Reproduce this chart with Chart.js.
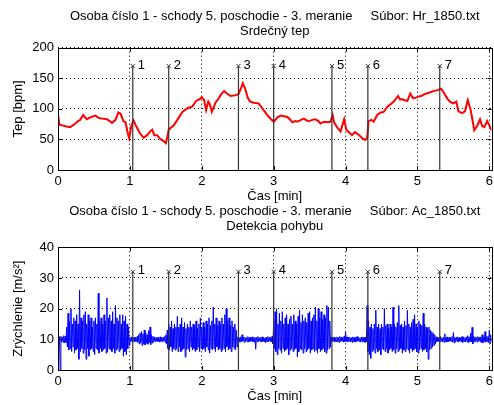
<!DOCTYPE html>
<html>
<head>
<meta charset="utf-8">
<script src="https://cdn.jsdelivr.net/npm/chart.js@4"></script>
<style>
html, body { margin: 0; padding: 0; background: #fff; }
#wrap { position: relative; width: 494px; height: 405px; overflow: hidden; }
canvas { position: absolute; left: 0; }
#hrCanvas { top: 0; }
#accCanvas { top: 200px; }
</style>
</head>
<body>
<div id="wrap">
  <canvas id="hrCanvas" width="497" height="205"></canvas>
  <canvas id="accCanvas" width="497" height="205"></canvas>
</div>
<script>
// --- data ---
var hrTitle = ['Osoba číslo 1 - schody 5. poschodie - 3. meranie     Súbor: Hr_1850.txt', 'Srdečný tep'];
var accTitle = ['Osoba číslo 1 - schody 5. poschodie - 3. meranie     Súbor: Ac_1850.txt', 'Detekcia pohybu'];
var xLabel = 'Čas [min]';
var hrLabel = 'Tep [bpm]';
var accLabel = 'Zrýchlenie [m/s²]';

var xMax = 6.03;
var markerTimes = [1.04, 1.54, 2.51, 3.0, 3.81, 4.31, 5.31];
var markerLabels = ['1', '2', '3', '4', '5', '6', '7'];
var hrMarkerTop = 170;
var accMarkerTop = 32;

var hrTime = [0.00, 0.02, 0.06, 0.12, 0.17, 0.22, 0.28, 0.31, 0.35, 0.40, 0.45, 0.52, 0.57, 0.62, 0.68, 0.72, 0.75, 0.80, 0.84, 0.87,
  0.89, 0.91, 0.94, 0.97, 0.99, 1.02, 1.05, 1.09, 1.14, 1.19, 1.24, 1.29, 1.31, 1.34, 1.38, 1.42, 1.47, 1.50, 1.52, 1.54,
  1.61, 1.66, 1.73, 1.80, 1.87, 1.92, 1.97, 2.00, 2.03, 2.06, 2.09, 2.11, 2.14, 2.19, 2.23, 2.27, 2.31, 2.35, 2.40, 2.46,
  2.51, 2.55, 2.57, 2.60, 2.64, 2.67, 2.72, 2.79, 2.86, 2.93, 3.00, 3.06, 3.10, 3.14, 3.18, 3.21, 3.26, 3.30, 3.33, 3.38,
  3.42, 3.46, 3.49, 3.54, 3.58, 3.62, 3.65, 3.70, 3.75, 3.79, 3.82, 3.84, 3.88, 3.93, 3.96, 3.98, 4.01, 4.06, 4.09, 4.13,
  4.19, 4.23, 4.27, 4.30, 4.32, 4.36, 4.39, 4.44, 4.49, 4.53, 4.58, 4.63, 4.67, 4.73, 4.76, 4.79, 4.82, 4.86, 4.90, 4.94,
  4.97, 5.01, 5.05, 5.10, 5.15, 5.22, 5.29, 5.33, 5.37, 5.42, 5.46, 5.50, 5.54, 5.57, 5.62, 5.66, 5.70, 5.74, 5.76, 5.79,
  5.83, 5.87, 5.90, 5.93, 5.97, 6.01, 6.03];
var hrValue = [90, 74, 73, 71, 70, 74, 80, 82, 90, 83, 86, 89, 85, 84, 83, 80, 77, 82, 94, 92,
  86, 80, 78, 60, 52, 72, 81, 71, 60, 53, 57, 64, 66, 57, 57, 51, 47, 44, 54, 66,
  73, 82, 95, 101, 104, 113, 116, 119, 115, 98, 112, 108, 95, 110, 116, 124, 129, 125, 121, 122,
  124, 135, 142, 134, 118, 112, 110, 109, 98, 87, 79, 87, 89, 88, 87, 85, 78, 80, 79, 82,
  84, 81, 80, 82, 83, 80, 76, 79, 78, 79, 90, 78, 70, 63, 75, 83, 66, 60, 57, 62,
  57, 52, 49, 52, 80, 82, 79, 90, 94, 95, 103, 108, 112, 121, 115, 116, 114, 113, 125, 117,
  118, 120, 121, 124, 126, 129, 131, 133, 126, 116, 111, 109, 112, 96, 93, 96, 114, 98, 85, 65,
  72, 83, 72, 70, 80, 70, 65];

// acceleration: upper and lower swing of the signal every 0.02 min
var accStep = 0.02;
var accHigh = [11, 10.8, 11, 10.7, 11.2, 11,
  14, 18.5, 16, 20, 15, 17, 16, 18, 15, 26, 17, 16, 18, 19, 15, 18, 16, 17, 14, 16, 17, 15, 25, 16, 17, 15, 18, 16, 23.5, 17,
  18, 16, 19, 15, 21, 17, 16, 18, 15, 18, 16, 17.5, 15, 14,
  10.6, 10.8, 10.5, 10.7, 10.6, 10.9, 11.5, 12, 12.5, 11.8, 13, 12.2, 11.5, 12.8, 14, 11.5, 11, 10.8, 10.6, 10.7, 10.5, 10.8, 10.6, 10.7, 10.9, 11.5,
  13, 15, 14, 16, 13.5, 15, 14, 17.5, 14, 15, 17, 14, 15.5, 13.5, 15, 14, 16, 14, 15, 14.5, 16, 13.5, 15, 17, 14, 15.5, 14, 16, 15, 17,
  14.5, 16, 20.5, 15, 17, 14.5, 16, 15, 17, 15, 18, 20, 16, 17, 14.5, 16, 14, 15, 13,
  10.7, 10.5, 10.8, 11.5, 10.6, 10.7, 10.5, 10.9, 10.6, 10.7, 10.8, 10.5, 10.7, 10.6, 10.9, 10.5, 10.7, 10.8, 10.6, 10.5, 10.7, 10.9, 10.6, 10.8, 11,
  16, 19, 20, 15, 18.5, 16, 19, 15, 17, 18, 15, 16.5, 17.5, 15, 18, 16, 15, 17.5, 19.5, 15.5, 18, 16, 17, 15.5, 18.5, 19, 16, 17, 18, 20.5,
  16, 20, 17, 19, 16.5, 18, 17, 21, 20.5, 16,
  10.8, 10.6, 10.7, 10.5, 10.8, 10.6, 10.9, 10.7, 10.6, 11, 12.5, 10.8, 10.6, 10.7, 10.5, 10.8, 10.6, 10.7, 10.9, 10.6, 10.5, 10.7, 10.8, 10.6, 10.7,
  21, 16, 14, 15, 13.5, 15, 19.5, 14, 15, 13.5, 15, 14, 20, 14.5, 15, 13.5, 15, 14, 20.5, 15, 14, 15.5, 21, 14.5, 15, 14, 16, 14.5, 19.5, 15,
  14, 15.5, 16.5, 18, 15, 14, 16, 15, 14.5, 18.5, 15, 14, 13.5, 14, 13, 12.5, 12, 11.5,
  10.8, 10.6, 10.7, 10.9, 10.5, 10.7, 11.8, 10.6, 10.8, 10.7, 10.5, 10.9, 12.2, 10.6, 10.7, 10.8, 10.6, 10.5, 10.9, 10.7,
  10.6, 10.8, 11.2, 10.7, 12, 13.9, 11, 10.8, 10.6, 10.9, 10.7, 10.8, 11.5, 10.6, 12.5, 10.8, 11, 13, 11.5, 10.8];
var accLow = [9, 0, 9.2, 9, 8.8, 9,
  7.5, 6.5, 7, 6, 7.5, 5.5, 6.5, 7, 3.5, 6, 7, 5.5, 6.5, 3.5, 7, 4.5, 6.5, 7, 6, 5, 7, 6.5, 5.5, 7, 6, 6.5, 7, 5.5, 6, 7,
  6.5, 6, 7, 5.5, 6.5, 7, 6, 6.5, 7, 4.5, 6, 5, 7, 8,
  9.3, 9.1, 9.4, 9.2, 9.3, 9, 8.5, 8.8, 8, 8.6, 8.2, 8.7, 8.4, 8.9, 8.3, 8.8, 9.1, 9.2, 9.4, 9.3, 9.1, 9.3, 9.2, 9.4, 9, 8.5,
  7, 6.5, 7.5, 6, 7, 6.5, 7, 6, 7.5, 6, 6.5, 7, 4.2, 6.5, 7, 6, 7.5, 6.5, 7, 6, 6.5, 7.5, 6, 7, 6.5, 7, 6, 7.5, 6.5, 5.5,
  7, 6.5, 7, 6, 7.5, 6.5, 7, 6, 6.5, 7, 6, 7.5, 6.5, 7, 6, 7.5, 7, 6.5, 7.5,
  9.3, 9.1, 9.2, 9.4, 9, 9.3, 9.2, 9.1, 9.3, 9.4, 9.2, 9.1, 6.8, 9.3, 9.2, 9.4, 9.1, 9.3, 9.2, 9, 9.3, 9.1, 9.4, 9.2, 8.5,
  7, 6, 5, 7, 6.5, 5.5, 7, 6, 6.5, 7, 5, 6.5, 7, 6, 6.5, 7, 4.3, 6, 7, 6.5, 5.5, 7, 6, 6.5, 7, 5.5, 6.5, 7, 6, 6.5,
  5.5, 7, 6, 6.5, 7, 6, 5.5, 6.5, 7, 7.5,
  9.2, 9.4, 9.1, 9.3, 9.2, 9, 9.3, 9.4, 9.1, 9.2, 9.3, 9.1, 9.4, 9.2, 9, 9.3, 9.1, 9.2, 9.4, 9.3, 9.1, 9.2, 9.3, 9, 9.2,
  6, 5, 3.8, 6, 6.5, 5.5, 7, 6, 6.5, 5, 7, 6.5, 6, 7, 5.5, 6.5, 7, 6, 6.5, 5.5, 7, 6, 6.5, 7, 5.5, 6.5, 6, 7, 6.5, 5.5,
  7, 6, 6.5, 7, 6, 5.5, 6.5, 7, 6, 6.5, 7, 6, 3.5, 6.5, 7, 7.5, 8, 8.5,
  9.2, 9.3, 9.1, 9.4, 9.2, 9, 9.3, 9.1, 9.2, 9.4, 9.3, 9.1, 8.8, 9.2, 9.3, 9.1, 9.4, 9.2, 9, 9.3,
  9.1, 9.2, 8.9, 9.3, 9.1, 8.5, 9.2, 9.3, 9.1, 9.4, 9.2, 9, 8.8, 9.3, 9.1, 9.2, 8.9, 8.7, 9.2, 9.1];

// --- chart setup ---
Chart.defaults.font.family = "'Liberation Sans', Arial, Helvetica, sans-serif";
Chart.defaults.font.size = 13;
Chart.defaults.color = '#000';

function markerLines(top) {
  var pts = [];
  markerTimes.forEach(function (t) {
    pts.push({ x: t, y: 0 }, { x: t, y: top }, { x: t, y: null });
  });
  return pts;
}

function markerTops(top) {
  return markerTimes.map(function (t) { return { x: t, y: top }; });
}

// matlab style box with inward ticks + marker numbers
var matlabAxes = {
  id: 'matlabAxes',
  afterDatasetsDraw: function (chart, args, opts) {
    var ctx = chart.ctx, a = chart.chartArea, xs = chart.scales.x, ys = chart.scales.y;
    ctx.save();
    ctx.strokeStyle = '#000';
    ctx.lineWidth = 1;
    ctx.beginPath();
    xs.ticks.forEach(function (tk) {
      var px = Math.round(xs.getPixelForValue(tk.value)) + 0.5;
      ctx.moveTo(px, a.bottom); ctx.lineTo(px, a.bottom - 4);
      ctx.moveTo(px, a.top); ctx.lineTo(px, a.top + 4);
    });
    ys.ticks.forEach(function (tk) {
      var py = Math.round(ys.getPixelForValue(tk.value)) + 0.5;
      ctx.moveTo(a.left, py); ctx.lineTo(a.left + 4, py);
      ctx.moveTo(a.right, py); ctx.lineTo(a.right - 4, py);
    });
    ctx.stroke();
    ctx.strokeRect(Math.round(a.left) + 0.5, Math.round(a.top) + 0.5,
      Math.round(a.right - a.left), Math.round(a.bottom - a.top));

    ctx.fillStyle = '#000';
    ctx.font = "13px 'Liberation Sans', Arial, sans-serif";
    ctx.textBaseline = 'middle';
    ctx.textAlign = 'left';
    markerTimes.forEach(function (t, i) {
      ctx.fillText(markerLabels[i], xs.getPixelForValue(t) + 5, ys.getPixelForValue(opts.markerTop) - 1);
    });
    ctx.restore();
  }
};

function buildChart(id, title, titlePad, seriesData, seriesColor, seriesWidth, yMax, yStep, yLabel, markerTop) {
  return new Chart(document.getElementById(id), {
    type: 'line',
    data: {
      datasets: [
        { data: seriesData, borderColor: seriesColor, borderWidth: seriesWidth, pointRadius: 0, tension: 0, order: 2 },
        { data: markerLines(markerTop), borderColor: '#333', borderWidth: 1.2, pointRadius: 0, spanGaps: false, order: 0 },
        { data: markerTops(markerTop), showLine: false, pointStyle: 'crossRot', pointRadius: 3,
          borderColor: '#333', borderWidth: 1, order: 0 }
      ]
    },
    options: {
      responsive: false,
      animation: false,
      events: [],
      layout: { padding: { left: 0, right: 0, top: 0, bottom: 0 } },
      plugins: {
        legend: { display: false },
        tooltip: { enabled: false },
        title: {
          display: true, text: title, fullSize: false, color: '#000',
          font: { size: 13, weight: 'normal', lineHeight: 1.115 },
          padding: titlePad
        },
        matlabAxes: { markerTop: markerTop }
      },
      scales: {
        x: {
          type: 'linear', min: 0, max: xMax,
          ticks: { stepSize: 1, includeBounds: false, padding: 4, maxRotation: 0 },
          grid: { color: '#000', drawTicks: false },
          border: { display: false, dash: [1, 3] },
          title: { display: true, text: xLabel, padding: { top: 0, bottom: 1 } },
          afterFit: function (s) { s.height = 35; }
        },
        y: {
          type: 'linear', min: 0, max: yMax,
          ticks: { stepSize: yStep, padding: 4 },
          grid: { color: '#000', drawTicks: false },
          border: { display: false, dash: [1, 3] },
          title: { display: true, text: yLabel, padding: { top: 11, bottom: 0 } },
          afterFit: function (s) { s.width = 58; }
        }
      }
    },
    plugins: [matlabAxes]
  });
}

var hrPoints = hrTime.map(function (t, i) { return { x: t, y: hrValue[i] }; });
var accPoints = [];
accHigh.forEach(function (v, i) {
  accPoints.push({ x: i * accStep, y: v });
  accPoints.push({ x: i * accStep + accStep / 2, y: accLow[i] });
});

buildChart('hrCanvas', hrTitle, { top: 9.45, bottom: 9.25 }, hrPoints, '#ff0000', 2, 200, 50, hrLabel, hrMarkerTop);
buildChart('accCanvas', accTitle, { top: 4.25, bottom: 14.05 }, accPoints, '#0000ff', 1, 40, 10, accLabel, accMarkerTop);
</script>
</body>
</html>
